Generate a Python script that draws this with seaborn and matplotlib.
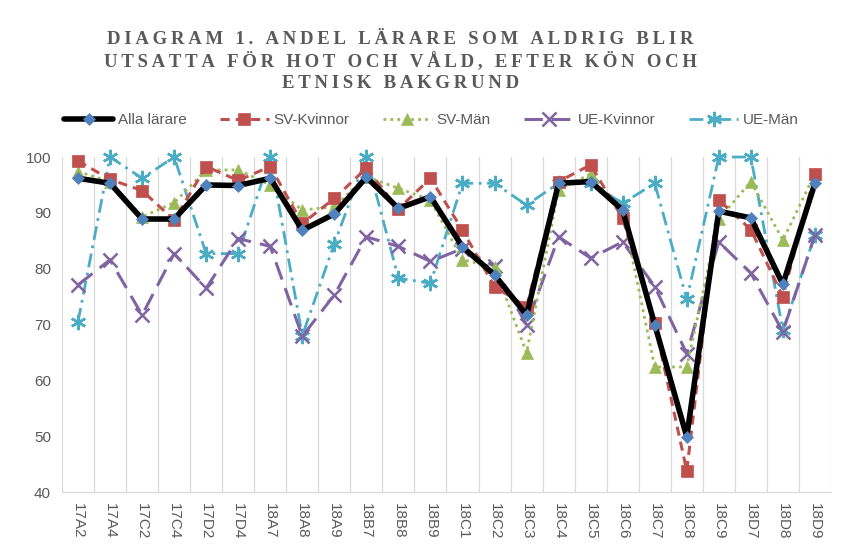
import matplotlib
matplotlib.use("Agg")
import matplotlib.pyplot as plt
import seaborn as sns
import pandas as pd

# Categories (school/class codes)
categories = ['17A2', '17A4', '17C2', '17C4', '17D2', '17D4', '18A7', '18A8', '18A9',
              '18B7', '18B8', '18B9', '18C1', '18C2', '18C3', '18C4', '18C5', '18C6',
              '18C7', '18C8', '18C9', '18D7', '18D8', '18D9']

# Share of teachers never exposed to threats/violence (%)
alla_larare = [96.2, 95.3, 88.9, 88.9, 95.0, 94.9, 96.2, 86.9, 89.8, 96.4, 90.8, 92.9,
               83.9, 78.9, 71.7, 95.3, 95.6, 90.5, 70.0, 49.9, 90.3, 89.1, 77.2, 95.3]
sv_kvinnor = [99.3, 96.0, 94.0, 88.7, 98.3, 95.8, 98.3, 88.1, 92.6, 98.0, 90.7, 96.2,
              86.9, 76.8, 73.2, 95.6, 98.6, 89.0, 70.2, 43.8, 92.3, 87.0, 75.0, 97.0]
sv_man = [97.4, 95.6, 89.3, 91.8, 97.7, 97.7, 95.0, 90.5, 91.1, 96.5, 94.4, 92.3,
          81.6, 80.3, 64.9, 94.1, 97.0, 90.2, 62.4, 62.4, 88.9, 95.6, 85.1, 97.0]
ue_kvinnor = [77.1, 81.6, 71.7, 82.7, 76.5, 85.4, 84.0, 67.9, 75.3, 85.7, 84.0, 81.3,
              83.6, 80.4, 69.9, 85.7, 81.9, 84.8, 76.8, 64.8, 84.8, 79.2, 68.7, 86.0]
ue_man = [70.5, 100.0, 96.2, 100.0, 82.7, 82.7, 100.0, 68.0, 84.5, 100.0, 78.3, 77.4,
          95.3, 95.3, 91.4, 95.3, 95.3, 91.7, 95.3, 74.5, 100.0, 100.0, 69.0, 86.0]

series_names = ['Alla lärare', 'SV-Kvinnor', 'SV-Män', 'UE-Kvinnor', 'UE-Män']
series_values = [alla_larare, sv_kvinnor, sv_man, ue_kvinnor, ue_man]

title_lines = ['DIAGRAM 1. ANDEL LÄRARE SOM ALDRIG BLIR',
               'UTSATTA FÖR HOT OCH VÅLD, EFTER KÖN OCH',
               'ETNISK BAKGRUND']

df = pd.DataFrame({'Kod': categories})
for name, vals in zip(series_names, series_values):
    df[name] = vals

sns.set_style("white")
plt.rcParams['font.family'] = ['Liberation Sans', 'DejaVu Sans']


def spaced(s, gap='\u200a'):
    # crude letter spacing
    return gap.join(s)


fig = plt.figure(figsize=(8.54, 5.51), dpi=100)
ax = fig.add_axes([0.0726, 0.107, 0.9004, 0.608])

# style per series
styles = {
    'UE-Män': dict(color='#4BACC6', marker=(6, 2, 0), mfc='#4BACC6', ls=(0, (5, 2, 1, 2)), lw=2.0, ms=11),
    'UE-Kvinnor': dict(color='#8064A2', marker='x', mfc='#8064A2', ls=(0, (6, 3)), lw=2.2, ms=10),
    'SV-Män': dict(color='#9BBB59', marker='^', mfc='#9BBB59', ls=(0, (1, 1.5)), lw=2.0, ms=9),
    'SV-Kvinnor': dict(color='#C0504D', marker='s', mfc='#C0504D', ls=(0, (3, 2)), lw=2.2, ms=9),
    'Alla lärare': dict(color='black', marker='D', mfc='#4F81BD', ls='-', lw=4.0, ms=6),
}

handles = {}
for name in ['UE-Män', 'UE-Kvinnor', 'SV-Män', 'SV-Kvinnor', 'Alla lärare']:
    st = styles[name]
    sns.lineplot(data=df, x='Kod', y=name, ax=ax, sort=False, color=st['color'],
                 linewidth=st['lw'], linestyle=st['ls'], marker=st['marker'],
                 markersize=st['ms'], markerfacecolor=st['mfc'],
                 markeredgecolor=st['mfc'], markeredgewidth=1.8 if name.startswith('UE') else 0.5,
                 clip_on=False, zorder=3)
    handles[name] = ax.lines[-1]

ax.set_xlim(-0.5, len(categories) - 0.5)
ax.set_ylim(40, 100)
ax.set_yticks(range(40, 101, 10))
ax.set_xlabel('')
ax.set_ylabel('')

# vertical gridlines between categories
for i in range(len(categories) + 1):
    ax.axvline(i - 0.5, color='#D9D9D9', lw=0.9, zorder=0)
for s in ['top', 'right', 'left']:
    ax.spines[s].set_visible(False)
ax.spines['bottom'].set_color('#D9D9D9')

ax.set_xticks(range(len(categories)))
ax.set_xticklabels(categories, rotation=270, fontsize=11,
                   color='#595959', family=['Liberation Sans', 'DejaVu Sans'])
ax.tick_params(axis='y', labelsize=11, colors='#595959', length=0, pad=8)
ax.tick_params(axis='x', length=0, pad=8)

for line, ypos in zip(title_lines, [0.920, 0.880, 0.840]):
    fig.text(0.469, ypos, spaced(line, '\u2009'), ha='center', va='baseline', fontsize=13.5,
             fontweight='bold', color='#595959',
             family=['Liberation Serif', 'DejaVu Serif'])

leg = fig.legend([handles[n] for n in series_names], series_names, loc='center',
                 bbox_to_anchor=(0.505, 0.782), ncol=5, frameon=False, fontsize=11,
                 handlelength=3.2, columnspacing=2.2, handletextpad=0.3)
for t in leg.get_texts():
    t.set_color('#595959')

fig.savefig('out.png', dpi=100)
